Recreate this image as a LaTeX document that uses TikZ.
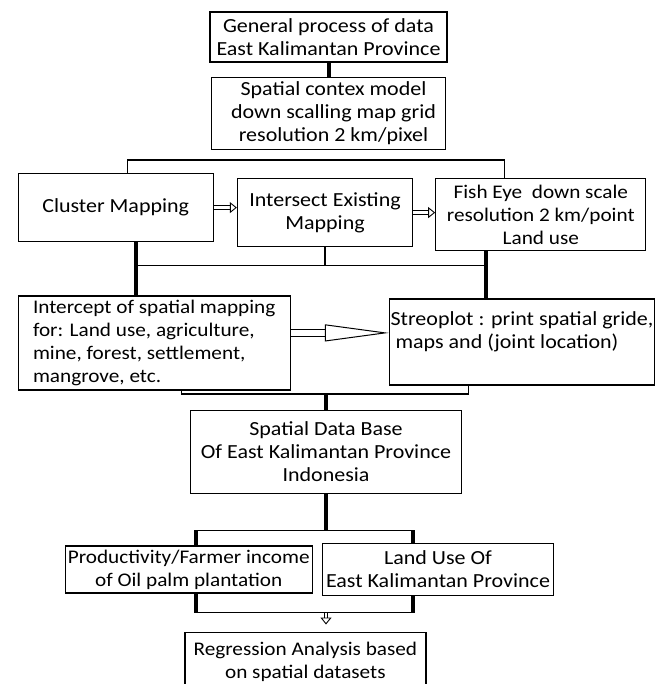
\documentclass[tikz,border=0pt]{standalone}
\usepackage{fontspec}
\setmainfont{Carlito}[FakeStretch=1.1]
\usetikzlibrary{arrows.meta, positioning, calc}

\begin{document}
\begin{tikzpicture}[
    x=1pt, y=-1pt, node distance=14pt,
    block/.style ={rectangle, draw=black, line width=1.3pt, fill=white, align=center, inner sep=2pt, font=\fontsize{20}{23}\selectfont},
    small/.style ={font=\fontsize{19.3}{23}\selectfont},
    link/.style ={draw, line width=4pt},
    thin/.style ={draw, line width=1.2pt},
    hollow/.style ={draw, double, line width=0.9pt, double distance=2.4pt, -{Triangle[open, length=7pt, width=11pt]}},
    bighollow/.style ={draw, double, line width=1pt, double distance=6.5pt, -{Triangle[open, length=64pt, width=17pt]}},
]
\useasboundingbox (0,0) rectangle (659,684);

% Nodes
\node [block, minimum width=237pt, minimum height=50pt] at (328.5,37) (top) {General process of data\\East Kalimantan Province};
\node [block, minimum width=234pt, minimum height=72pt, below=14pt of top] (spat) {\ \ Spatial contex model\\\ \ down scalling map grid\\\ \ resolution 2 km/pixel};
\node [block, minimum width=195pt, minimum height=68pt, below left=23pt and -3pt of spat] (cluster) {Cluster Mapping};
\node [block, minimum width=175pt, minimum height=68pt, right=23pt of cluster, yshift=-5pt] (inters) {Intersect Existing\\Mapping};
\node [block, small, minimum width=210pt, minimum height=72pt, right=22pt of inters, yshift=-2pt] (fish) {Fish Eye\ \ down scale\\resolution 2 km/point\\Land use};
\node [block, small, align=left, minimum width=272pt, minimum height=94pt, below=53pt of cluster.south west, anchor=north west] (intercept) {Intercept of spatial mapping\\for: Land use, agriculture,\\mine, forest, settlement,\\mangrove, etc.};
\node [block, align=left, inner xsep=1pt, minimum width=265pt, minimum height=86pt, right=98pt of intercept, yshift=1pt] (streo) {Streoplot : print spatial gride,\\\ maps and (joint location)\\\mbox{}};
\node [block, minimum width=271pt, minimum height=83pt, below=260pt of spat, xshift=-2.5pt] (sdb) {Spatial Data Base\\Of East Kalimantan Province\\Indonesia};
\node [block, small, minimum width=247pt, minimum height=47pt, below left=51pt and -123pt of sdb] (prod) {Productivity/Farmer income\\of Oil palm plantation};
\node [block, minimum width=231pt, minimum height=52pt, right=9pt of prod] (landuse) {Land Use Of\\East Kalimantan Province};
\node [block, small, minimum width=241pt, minimum height=80pt, below=38pt of prod.south east, anchor=north, xshift=-7.5pt] (regr) {Regression Analysis based\\on spatial datasets\\\mbox{}};

% Helper points
\coordinate (split) at ([yshift=-10pt]spat.south);
\coordinate (cl) at ([xshift=20.5pt, yshift=-23pt]cluster.south);
\coordinate (fe) at ([xshift=-55pt]fish.south |- cl);
\coordinate (merge) at ([yshift=16pt]sdb.north);
\coordinate (fork) at ([yshift=-36pt]sdb.south);
\coordinate (pl) at ([xshift=7.5pt]prod.north |- fork);
\coordinate (lr) at ([xshift=-25.5pt]landuse.north |- fork);
\coordinate (pb) at ([xshift=7.5pt, yshift=-19pt]prod.south);
\coordinate (lb) at ([xshift=-25.5pt]landuse.south |- pb);

% Lines
\path [link] (top) -- (spat);
\path [thin] ([xshift=11.5pt]cluster.north) |- (split) -| ([xshift=-36pt]fish.north);
\path [hollow] (cluster.east) -- (cluster.east -| inters.west);
\path [hollow] (inters.east) -- (inters.east -| fish.west);
\path [link] ([xshift=20.5pt]cluster.south) -- ([xshift=20.5pt]cluster.south |- intercept.north);
\path [link] ([xshift=-55pt]fish.south) -- ([xshift=-55pt]fish.south |- streo.north);
\path [thin] (cl) -- (fe);
\path [thin] (inters.south) -- (inters.south |- cl);
\path [bighollow] ([yshift=10pt]intercept.east) -- ([yshift=10pt]intercept.east -| streo.west);
\path [thin] ([xshift=27pt]intercept.south) |- (merge) -| ([xshift=-53.5pt]streo.south);
\path [link] (merge) -- (sdb.north);
\path [link] (sdb.south) -- (fork);
\path [thin] (pl) -- (lr);
\path [link] (pl) -- (pl |- prod.north);
\path [link] (lr) -- (lr |- landuse.north);
\path [link] ([xshift=7.5pt]prod.south) -- (pb);
\path [link] ([xshift=-25.5pt]landuse.south) -- (lb);
\path [thin] (pb) -- (lb);
\path [hollow, shorten >=7pt] (pb -| fork) -- (regr.north -| fork);

\end{tikzpicture}
\end{document}
